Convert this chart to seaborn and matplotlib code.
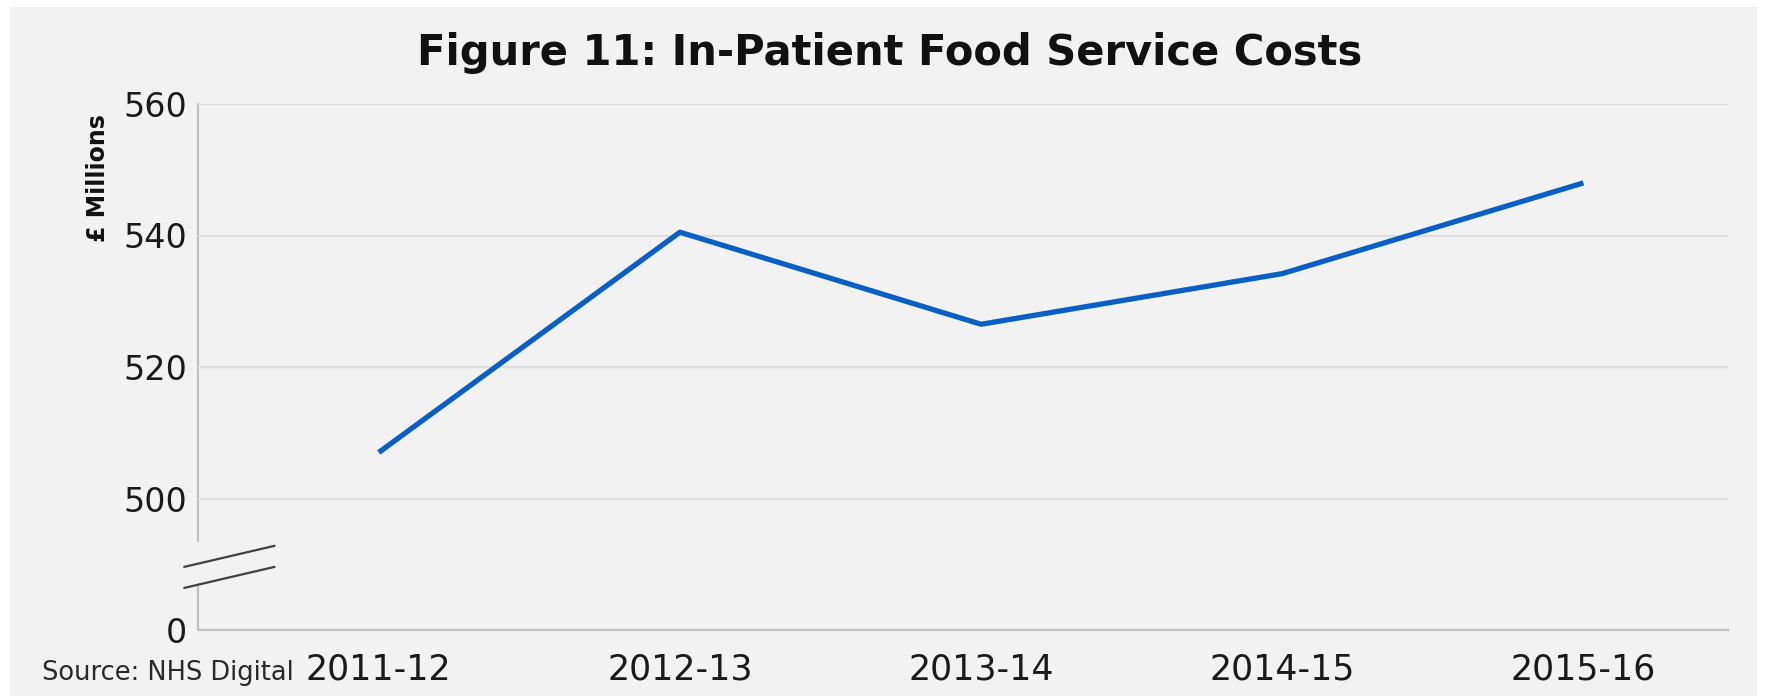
import matplotlib
matplotlib.use("Agg")
import matplotlib.pyplot as plt
from matplotlib.lines import Line2D
import seaborn as sns
import pandas as pd

# Annual in-patient food service costs (GBP millions)
years = ["2011-12", "2012-13", "2013-14", "2014-15", "2015-16"]
costs = [507.0, 540.5, 526.5, 534.2, 548.0]

# y axis is broken between 0 and 500: the "0" tick sits one step below 500
y_ticks = [480, 500, 520, 540, 560]
y_tick_labels = ["0", "500", "520", "540", "560"]

title = "Figure 11: In-Patient Food Service Costs"
y_label = "£ Millions"
source = "Source: NHS Digital"

sns.set_theme(style="white")
plt.rcParams["font.family"] = ["DejaVu Sans"]

BG = "#f2f2f2"
LINE = "#0a5fc4"
GRID = "#dedede"
AXIS = "#bfbfbf"
TEXT = "#1a1a1a"

fig = plt.figure(figsize=(17.67, 6.98), dpi=100, facecolor="white")
# grey chart panel with a thin white margin
panel = fig.add_axes([10 / 1767, 2 / 698, 1747 / 1767, 689 / 698])
panel.set_facecolor(BG)
panel.set_xticks([])
panel.set_yticks([])
for s in panel.spines.values():
    s.set_visible(False)
panel.set_zorder(0)

ax = fig.add_axes([198 / 1767, 1 - 630 / 698, (1728 - 198) / 1767, (630 - 104) / 698])
ax.set_facecolor("none")
ax.set_zorder(1)

df = pd.DataFrame({"year": years, "cost": costs})
sns.lineplot(data=df, x="year", y="cost", ax=ax, color=LINE, linewidth=3.8,
             sort=False, solid_capstyle="butt")

ax.set_xlim(-0.6, 4.48)
ax.set_ylim(480, 560)
ax.set_yticks(y_ticks)
ax.set_yticklabels(y_tick_labels)
ax.set_xlabel("")
ax.set_ylabel("")

ax.yaxis.grid(True, color=GRID, linewidth=1.6)
ax.xaxis.grid(False)
ax.tick_params(axis="y", labelsize=24, colors=TEXT, length=0, pad=8)
ax.tick_params(axis="x", labelsize=25, colors=TEXT, length=0, pad=16)

for side in ["top", "right", "left"]:
    ax.spines[side].set_visible(False)
ax.spines["bottom"].set_color(AXIS)
ax.spines["bottom"].set_linewidth(1.6)

# left axis line, interrupted at the break
for y0, y1 in [(0.0, 0.085), (0.17, 1.0)]:
    ax.add_line(Line2D([0, 0], [y0, y1], transform=ax.transAxes, color=AXIS,
                       linewidth=1.6, clip_on=False, zorder=0.5))
# break marks
for yl, yr in [(0.08, 0.12), (0.12, 0.16)]:
    ax.add_line(Line2D([-0.009, 0.05], [yl, yr], transform=ax.transAxes,
                       color="#404040", linewidth=1.6, clip_on=False))

fig.text(890 / 1767, 1 - 53 / 698, title, ha="center", va="center",
         fontsize=30, fontweight="bold", color="#111111")
fig.text(98 / 1767, 1 - 178 / 698, y_label, ha="center", va="center",
         rotation=90, fontsize=17, fontweight="bold", color="#111111")
fig.text(42 / 1767, 1 - 673 / 698, source, ha="left", va="center",
         fontsize=18.5, color="#2a2a2a")

fig.savefig("out.png", dpi=100, facecolor="white")
